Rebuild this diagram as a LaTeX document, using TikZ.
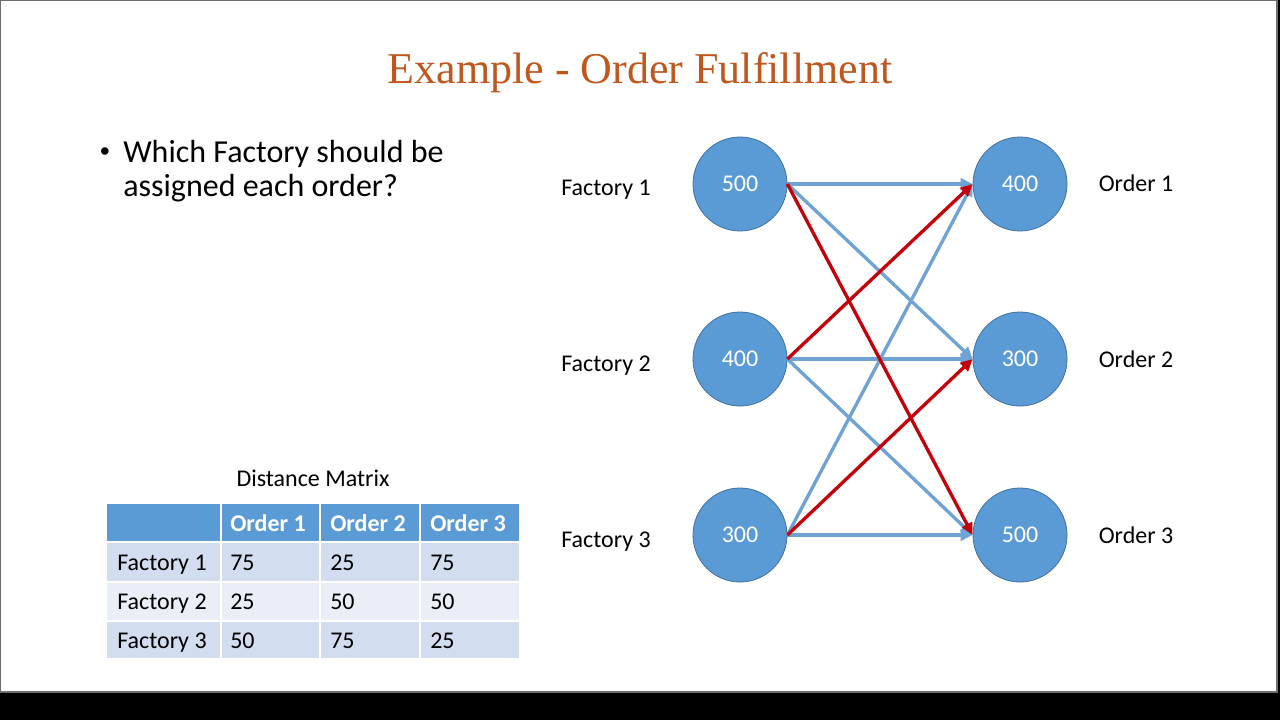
\documentclass[tikz,border=0pt]{standalone}
\usepackage{fontspec}
\setmainfont{Carlito}
\newfontfamily\titlefont{Liberation Serif}
\usetikzlibrary{arrows.meta}
\definecolor{nodeblue}{HTML}{5B9BD5}
\definecolor{nodeedge}{HTML}{41719C}
\definecolor{arrblue}{HTML}{6FA3D3}
\definecolor{arrred}{HTML}{C4000A}
\definecolor{titleor}{HTML}{C0581E}
\definecolor{rowA}{HTML}{D2DEEF}
\definecolor{rowB}{HTML}{EAEFF7}
\definecolor{frame}{HTML}{6E6E6E}
\tikzset{
  circ/.style={circle, fill=nodeblue, draw=nodeedge, line width=0.6pt, minimum size=70.5pt, inner sep=0pt, text=white, font=\fontsize{18}{22}\selectfont},
  lbl/.style={anchor=base, inner sep=0pt, font=\fontsize{18}{22}\selectfont},
  cell/.style={anchor=base west, inner sep=0pt, font=\fontsize{18}{22}\selectfont},
  hcell/.style={anchor=base west, inner sep=0pt, text=white, font=\bfseries\fontsize{18}{22}\selectfont},
  body/.style={anchor=base west, inner sep=0pt, font=\fontsize{24}{29}\selectfont},
  barrow/.style={draw=arrblue, line width=2.5pt, -{Triangle[length=9pt,width=8.5pt]}},
  rarrow/.style={draw=arrred, line width=2.5pt, -{Triangle[length=9pt,width=8.5pt]}}
}
\begin{document}
\begin{tikzpicture}[x=0.75pt,y=-0.75pt]
\useasboundingbox (0,0) rectangle (1280,720);
\fill[black] (0,0) rectangle (1280,720);
\fill[white, draw=frame, line width=0.8pt] (0.8,0.8) rectangle (1277,692);

% title
\node[anchor=base, inner sep=0pt, text=titleor, font=\titlefont\fontsize{33}{40}\selectfont] (title) at (640,84) {Example - Order Fulfillment};

% bullet
\node[anchor=center, inner sep=0pt, font=\fontsize{16}{20}\selectfont] (bul) at (105,153) {\textbullet};
\node[body] (q1) at (123,163) {Which Factory should be};
\node[body] (q2) at (123,197) {assigned each order?};

% table
\node[lbl] (dm) at (313,486) {Distance Matrix};
\fill[nodeblue] (107,504) rectangle (219.5,541);
\fill[nodeblue] (221.5,504) rectangle (319,541);
\fill[nodeblue] (321,504) rectangle (419,541);
\fill[nodeblue] (421,504) rectangle (519,541);
\foreach \ya/\yb/\c in {543/580.5/rowA, 582.5/619.5/rowB, 621.5/658/rowA}{
  \fill[\c] (107,\ya) rectangle (219.5,\yb);
  \fill[\c] (221.5,\ya) rectangle (319,\yb);
  \fill[\c] (321,\ya) rectangle (419,\yb);
  \fill[\c] (421,\ya) rectangle (519,\yb);
}
\node[hcell] (h1) at (230,531) {Order 1};
\node[hcell] (h2) at (330,531) {Order 2};
\node[hcell] (h3) at (430,531) {Order 3};
\node[cell] (r1) at (117,570) {Factory 1};
\node[cell] (c11) at (230,570) {75};
\node[cell] (c12) at (330,570) {25};
\node[cell] (c13) at (430,570) {75};
\node[cell] (r2) at (117,609) {Factory 2};
\node[cell] (c21) at (230,609) {25};
\node[cell] (c22) at (330,609) {50};
\node[cell] (c23) at (430,609) {50};
\node[cell] (r3) at (117,648) {Factory 3};
\node[cell] (c31) at (230,648) {50};
\node[cell] (c32) at (330,648) {75};
\node[cell] (c33) at (430,648) {25};

% network nodes
\node[circ] (f1) at (740,184) {500};
\node[circ] (f2) at (740,359) {400};
\node[circ] (f3) at (740,535) {300};
\node[circ] (o1) at (1020,184) {400};
\node[circ] (o2) at (1020,359) {300};
\node[circ] (o3) at (1020,535) {500};

\node[lbl] (lf1) at (606,196) {Factory 1};
\node[lbl] (lf2) at (606,371) {Factory 2};
\node[lbl] (lf3) at (606,547) {Factory 3};
\node[lbl] (lo1) at (1136,192) {Order 1};
\node[lbl] (lo2) at (1136,367) {Order 2};
\node[lbl] (lo3) at (1136,543) {Order 3};

% connectors
\draw[barrow] (f1.east) -- (o1.west);
\draw[barrow] (f1.east) -- (o2.west);
\draw[barrow] (f2.east) -- (o2.west);
\draw[barrow] (f2.east) -- (o3.west);
\draw[barrow] (f3.east) -- (o1.west);
\draw[barrow] (f3.east) -- (o3.west);
\draw[rarrow] (f1.east) -- (o3.west);
\draw[rarrow] (f2.east) -- (o1.west);
\draw[rarrow] (f3.east) -- (o2.west);
\end{tikzpicture}
\end{document}
